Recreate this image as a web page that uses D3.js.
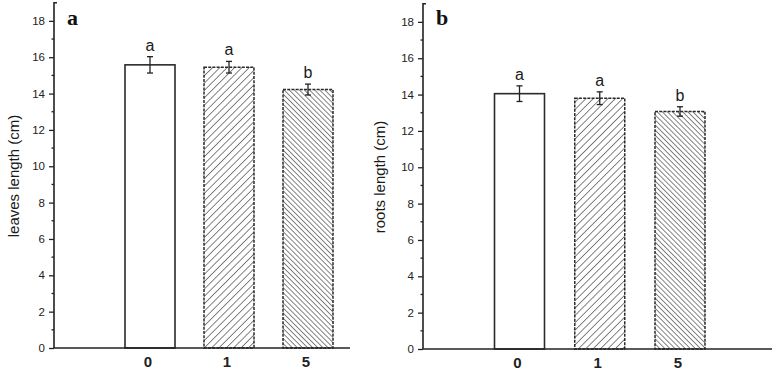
<!DOCTYPE html>
<html><head><meta charset="utf-8">
<script src="https://cdn.jsdelivr.net/npm/d3@7"></script>
<style>body{margin:0;background:#fff}svg{display:block}</style>
</head><body>
<script>
const categories = ["0", "1", "5"];
const leavesLength = [15.58, 15.45, 14.22];
const leavesErr = [0.45, 0.32, 0.30];
const leavesLetters = ["a", "a", "b"];
const rootsLength = [14.05, 13.8, 13.07];
const rootsErr = [0.43, 0.35, 0.26];
const rootsLetters = ["a", "a", "b"];
const yTicks = [0, 2, 4, 6, 8, 10, 12, 14, 16, 18];
const yMinor = [1, 3, 5, 7, 9, 11, 13, 15, 17];

const W = 778, H = 371;
const svg = d3.select("body").append("svg").attr("width", W).attr("height", H);

const defs = svg.append("defs");
function hatch(id, size, angle) {
  const p = defs.append("pattern").attr("id", id).attr("patternUnits", "userSpaceOnUse")
    .attr("width", size).attr("height", size).attr("patternTransform", `rotate(${angle})`);
  p.append("rect").attr("width", size).attr("height", size).attr("fill", "#fff");
  p.append("line").attr("x1", 0).attr("y1", 0).attr("x2", 0).attr("y2", size)
    .attr("stroke", "#6e6e6e").attr("stroke-width", 1.7);
}
hatch("h1", 5.2, 45);
hatch("h5", 3.6, -45);
const fills = ["#fff", "url(#h1)", "url(#h5)"];

function panel(cfg) {
  const g = svg.append("g");
  const y = d3.scaleLinear().domain([0, 19]).range([cfg.y0, cfg.y0 - 345.3]);
  const x = d3.scalePoint().domain(categories).range(cfg.xr);
  const bw = 50;

  g.selectAll("rect.bar").data(cfg.values).join("rect")
    .attr("x", (d, i) => x(categories[i]) - bw / 2)
    .attr("y", d => y(d))
    .attr("width", bw)
    .attr("height", d => y(0) - y(d))
    .attr("fill", (d, i) => fills[i])
    .attr("stroke", "#2a2a2a")
    .attr("stroke-width", (d, i) => i === 0 ? 1.6 : 1.5)
    .attr("stroke-dasharray", (d, i) => i === 0 ? null : "3,1.2");

  cfg.values.forEach((v, i) => {
    const cx = x(categories[i]);
    const e = cfg.err[i];
    g.append("line").attr("x1", cx).attr("x2", cx).attr("y1", y(v + e)).attr("y2", y(v - e))
      .attr("stroke", "#222").attr("stroke-width", 1.3);
    [v + e, v - e].forEach(t => g.append("line").attr("x1", cx - 3).attr("x2", cx + 3)
      .attr("y1", y(t)).attr("y2", y(t)).attr("stroke", "#222").attr("stroke-width", 1.3));
    g.append("text").attr("x", cx).attr("y", y(v + e) - 6)
      .attr("text-anchor", "middle").attr("font-family", "Liberation Sans, Arial, sans-serif")
      .attr("font-size", 16).attr("fill", "#1a1a1a").text(cfg.letters[i]);
  });

  const yAxis = d3.axisLeft(y).tickValues(yTicks).tickSize(5).tickPadding(4).tickFormat(d3.format("d"));
  const ya = g.append("g").attr("transform", `translate(${cfg.ax},0)`).call(yAxis);
  ya.select(".domain").remove();
  ya.selectAll(".tick line").attr("stroke", "#222").attr("stroke-width", 1.3);
  ya.selectAll(".tick text").attr("font-family", "Liberation Sans, Arial, sans-serif")
    .attr("font-size", 11.5).attr("fill", "#222");
  g.selectAll("line.minor").data(yMinor).join("line").attr("class", "minor")
    .attr("x1", cfg.ax - 2.5).attr("x2", cfg.ax).attr("y1", d => y(d)).attr("y2", d => y(d))
    .attr("stroke", "#222").attr("stroke-width", 1.3);
  g.append("path").attr("d", `M${cfg.ax + 3},${y(19)} L${cfg.ax},${y(19)} L${cfg.ax},${y(0)}`)
    .attr("fill", "none").attr("stroke", "#222").attr("stroke-width", 1.6);

  g.append("line").attr("x1", cfg.ax).attr("x2", cfg.xEnd).attr("y1", y(0)).attr("y2", y(0))
    .attr("stroke", "#222").attr("stroke-width", 1.6);
  g.selectAll("text.xl").data(categories).join("text").attr("class", "xl")
    .attr("x", d => x(d) - 2).attr("y", y(0) + 19)
    .attr("text-anchor", "middle").attr("font-family", "Liberation Sans, Arial, sans-serif")
    .attr("font-size", 15).attr("font-weight", "bold").attr("fill", "#222").text(d => d);

  g.append("text").attr("transform", `translate(${cfg.tx},${cfg.y0 - 172}) rotate(-90)`)
    .attr("text-anchor", "middle").attr("font-family", "Liberation Sans, Arial, sans-serif")
    .attr("font-size", 15).attr("fill", "#1a1a1a").text(cfg.title);
  g.append("text").attr("x", cfg.ax + 13).attr("y", 25)
    .attr("font-family", "Liberation Serif, Times New Roman, serif").attr("font-weight", "bold")
    .attr("font-size", 22).attr("fill", "#111").text(cfg.panel);
}

panel({ values: leavesLength, err: leavesErr, letters: leavesLetters, y0: 348, ax: 54, xEnd: 350,
  xr: [150, 308], tx: 19, title: "leaves length (cm)", panel: "a" });
panel({ values: rootsLength, err: rootsErr, letters: rootsLetters, y0: 349, ax: 423, xEnd: 772,
  xr: [519.5, 680], tx: 385, title: "roots length (cm)", panel: "b" });
</script>
</body></html>
